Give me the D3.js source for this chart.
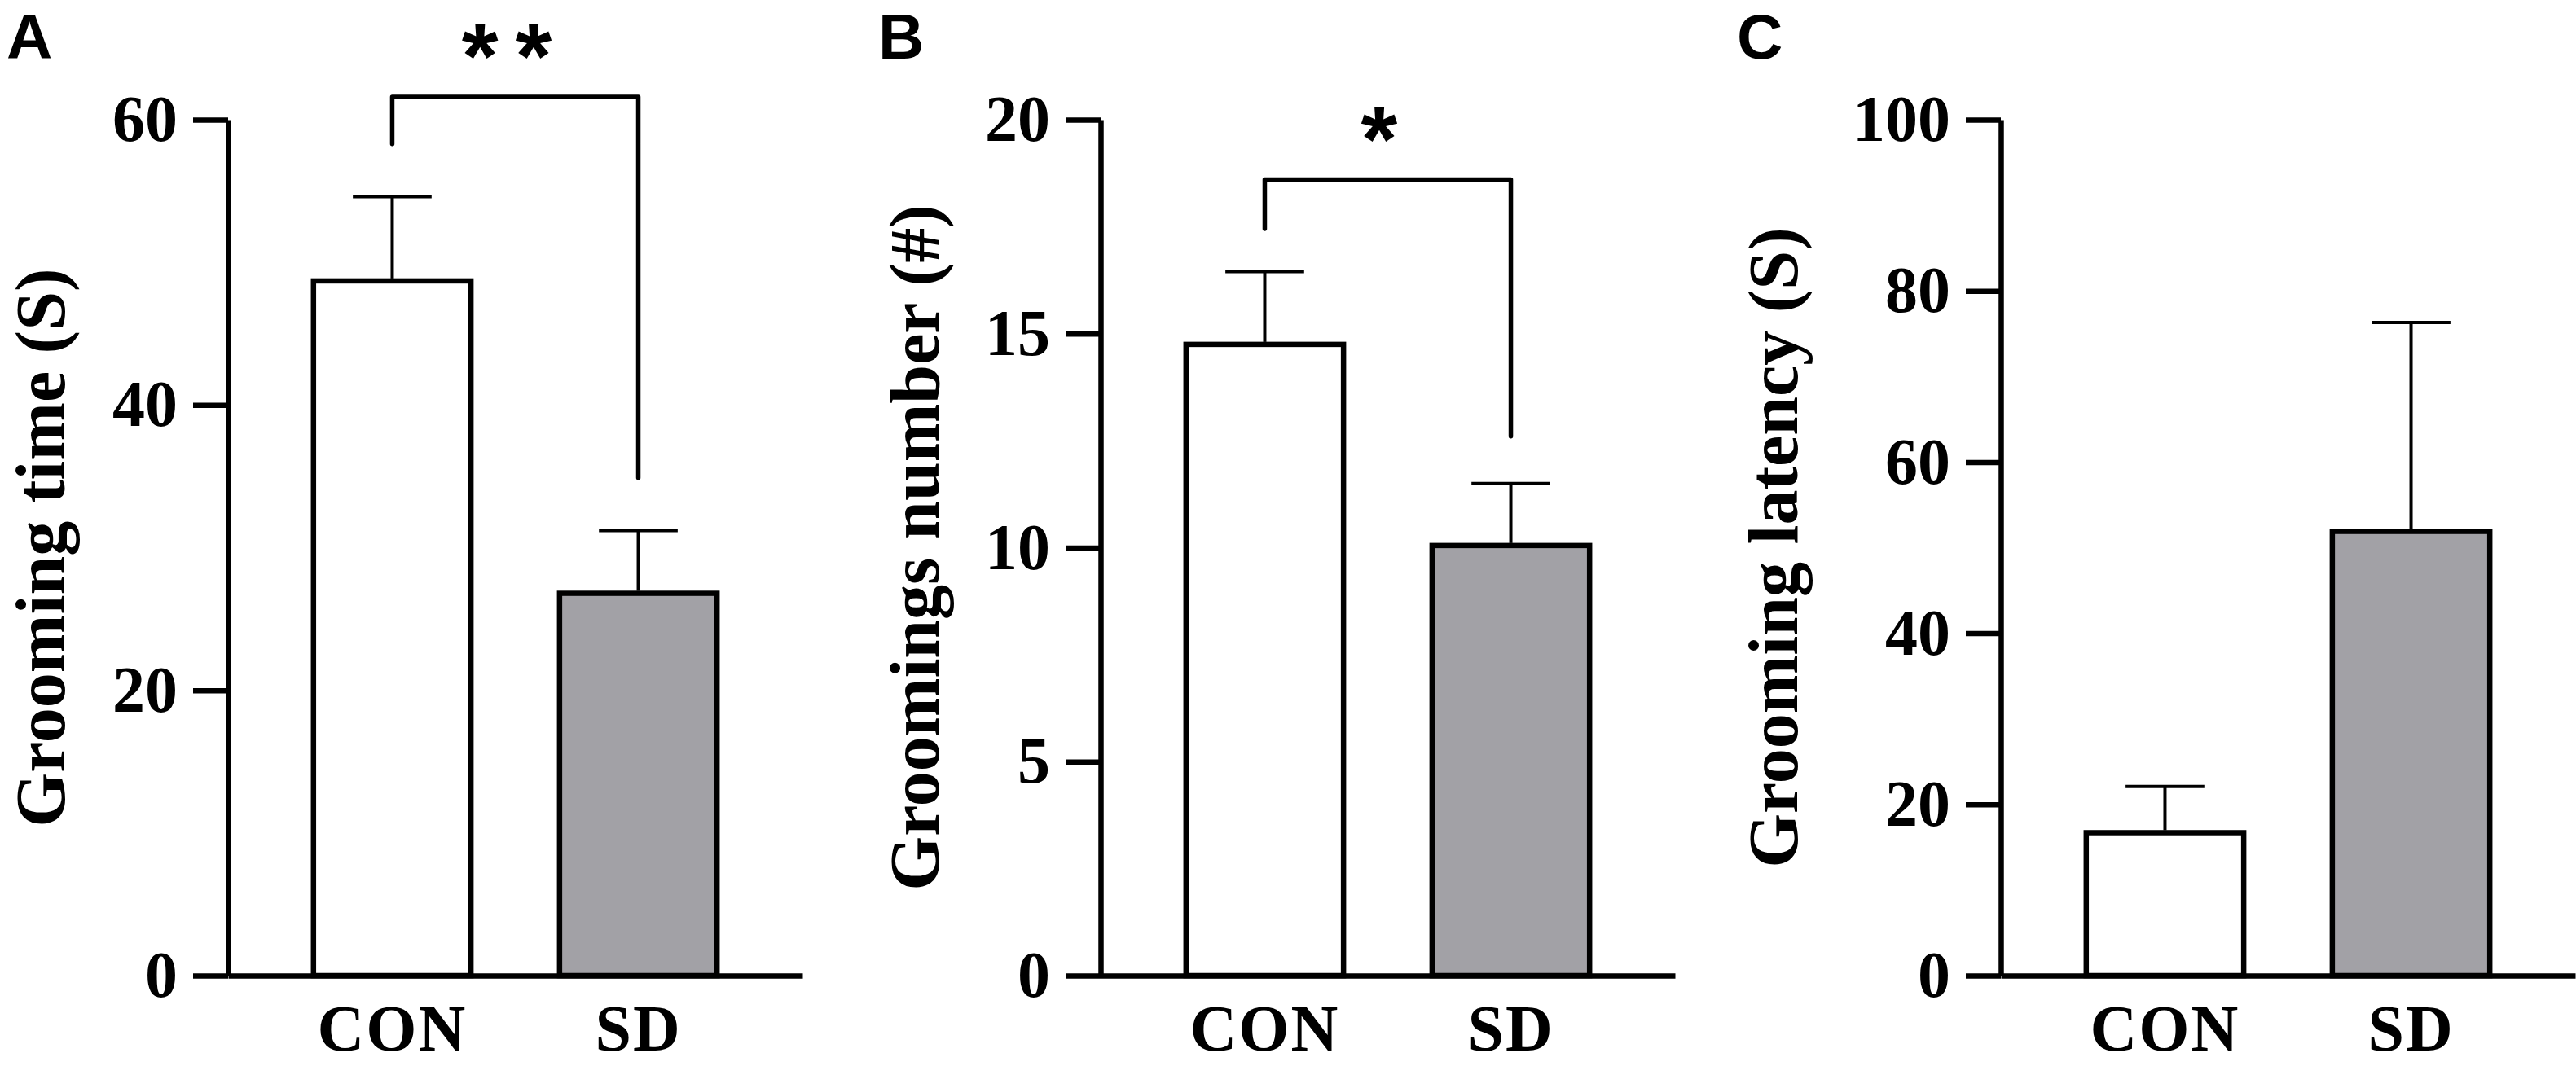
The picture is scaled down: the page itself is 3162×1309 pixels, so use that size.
<!DOCTYPE html>
<html>
<head>
<meta charset="utf-8">
<script src="https://cdn.jsdelivr.net/npm/d3@7"></script>
<style>
  body { margin: 0; background: #fff; }
  svg { display: block; }
</style>
</head>
<body>
<svg width="3162" height="1309"></svg>
<script>
const svg = d3.select("svg");

// groups on the x axis
const groups = ["CON", "SD"];

// panel A: grooming time (s)
const timeMean = [48.7, 26.8];
const timeSem = [5.9, 4.4];
const timeTicks = [0, 20, 40, 60];

// panel B: groomings number
const countMean = [14.75, 10.05];
const countSem = [1.7, 1.45];
const countTicks = [0, 5, 10, 15, 20];

// panel C: grooming latency (s)
const latencyMean = [16.7, 51.9];
const latencySem = [5.4, 24.4];
const latencyTicks = [0, 20, 40, 60, 80, 100];

// significance brackets: [left leg end, bar top, right leg end]
const timeBracket = [58.3, 61.6, 34.9];
const countBracket = [17.45, 18.6, 12.6];

const panels = [
  { letter: "A", letterX: 8, axisX: 280, label: "Grooming time (S)", labelOff: -201,
    mean: timeMean, sem: timeSem, ticks: timeTicks, max: 60,
    bracket: timeBracket, stars: "**" },
  { letter: "B", letterX: 1078, axisX: 1351, label: "Groomings number (#)", labelOff: -199,
    mean: countMean, sem: countSem, ticks: countTicks, max: 20,
    bracket: countBracket, stars: "*" },
  { letter: "C", letterX: 2132, axisX: 2456, label: "Grooming latency (S)", labelOff: -250,
    mean: latencyMean, sem: latencySem, ticks: latencyTicks, max: 100,
    bracket: null, stars: null }
];

const plotTop = 147, plotBottom = 1198;
const serif = "'Liberation Serif', 'Times New Roman', serif";
const sans = "'Liberation Sans', Arial, sans-serif";
const fills = ["#ffffff", "#a2a1a6"];

panels.forEach((p) => {
  const g = svg.append("g");

  const y = d3.scaleLinear().domain([0, p.max]).range([plotBottom, plotTop]);
  const x = d3.scaleBand()
    .domain(groups)
    .range([p.axisX, p.axisX + 705])
    .paddingInner(0.36)
    .paddingOuter(0.347);

  // bars
  g.selectAll("rect.bar")
    .data(groups)
    .join("rect")
    .attr("class", "bar")
    .attr("x", (d) => x(d))
    .attr("width", x.bandwidth())
    .attr("y", (d, i) => y(p.mean[i]))
    .attr("height", (d, i) => y(0) - y(p.mean[i]))
    .attr("fill", (d, i) => fills[i])
    .attr("stroke", "#000")
    .attr("stroke-width", 6.5);

  // error bars (upper only)
  const capW = x.bandwidth() / 2;
  g.selectAll("line.err")
    .data(groups)
    .join("line")
    .attr("class", "err")
    .attr("x1", (d) => x(d) + x.bandwidth() / 2)
    .attr("x2", (d) => x(d) + x.bandwidth() / 2)
    .attr("y1", (d, i) => y(p.mean[i]) - 3)
    .attr("y2", (d, i) => y(p.mean[i] + p.sem[i]))
    .attr("stroke", "#000")
    .attr("stroke-width", 4);

  g.selectAll("line.cap")
    .data(groups)
    .join("line")
    .attr("class", "cap")
    .attr("x1", (d) => x(d) + x.bandwidth() / 2 - capW / 2)
    .attr("x2", (d) => x(d) + x.bandwidth() / 2 + capW / 2)
    .attr("y1", (d, i) => y(p.mean[i] + p.sem[i]))
    .attr("y2", (d, i) => y(p.mean[i] + p.sem[i]))
    .attr("stroke", "#000")
    .attr("stroke-width", 4);

  // y axis
  const yAxis = g.append("g")
    .attr("transform", `translate(${p.axisX},0)`)
    .call(d3.axisLeft(y).tickValues(p.ticks).tickSize(43).tickSizeOuter(0).tickPadding(19));
  yAxis.select(".domain").attr("stroke-width", 6.5);
  yAxis.selectAll(".tick line").attr("stroke-width", 6.5);
  yAxis.selectAll(".tick text")
    .attr("font-family", serif)
    .attr("font-weight", "bold")
    .attr("font-size", 80)
    .attr("fill", "#000");

  // x axis
  const xAxis = g.append("g")
    .attr("transform", `translate(0,${plotBottom})`)
    .call(d3.axisBottom(x).tickSize(0).tickSizeOuter(0).tickPadding(35));
  xAxis.select(".domain").attr("stroke-width", 6.5);
  xAxis.selectAll(".tick text")
    .attr("font-family", serif)
    .attr("font-weight", "bold")
    .attr("font-size", 80)
    .attr("letter-spacing", "2px")
    .attr("fill", "#000");

  // y label
  g.append("text")
    .attr("transform", `translate(${p.axisX + p.labelOff},${(plotTop + plotBottom) / 2}) rotate(-90)`)
    .attr("text-anchor", "middle")
    .attr("font-family", serif)
    .attr("font-weight", "bold")
    .attr("font-size", 86)
    .attr("fill", "#000")
    .text(p.label);

  // panel letter
  svg.append("text")
    .attr("x", p.letterX)
    .attr("y", 72)
    .attr("font-family", sans)
    .attr("font-weight", "bold")
    .attr("font-size", 78)
    .attr("fill", "#000")
    .text(p.letter);

  // significance bracket
  if (p.bracket) {
    const xl = x(groups[0]) + x.bandwidth() / 2;
    const xr = x(groups[1]) + x.bandwidth() / 2;
    const path = d3.path();
    path.moveTo(xl, y(p.bracket[0]));
    path.lineTo(xl, y(p.bracket[1]));
    path.lineTo(xr, y(p.bracket[1]));
    path.lineTo(xr, y(p.bracket[2]));
    g.append("path")
      .attr("d", path.toString())
      .attr("fill", "none")
      .attr("stroke", "#000")
      .attr("stroke-width", 5.5)
      .attr("stroke-linejoin", "round")
      .attr("stroke-linecap", "round");

    g.append("text")
      .attr("x", (xl + xr) / 2)
      .attr("y", y(p.bracket[1]) - 11)
      .attr("text-anchor", "middle")
      .attr("font-family", sans)
      .attr("font-weight", "bold")
      .attr("font-size", 115)
      .attr("letter-spacing", "21px")
      .attr("fill", "#000")
      .text(p.stars);
  }
});
</script>
</body>
</html>
